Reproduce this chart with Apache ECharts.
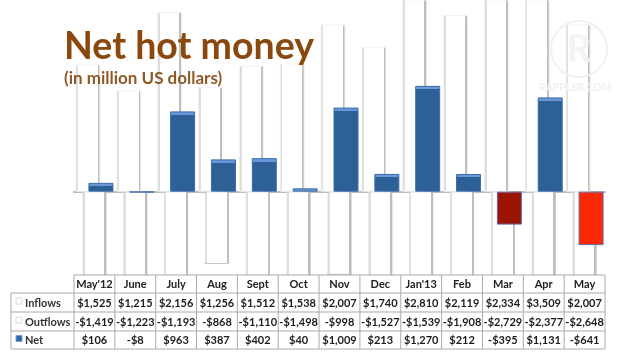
<!DOCTYPE html>
<html><head><meta charset="utf-8">
<script src="https://cdn.jsdelivr.net/npm/echarts@6/dist/echarts.min.js"></script>
<style>html,body{margin:0;padding:0;background:#fff}#c{width:636px;height:360px;filter:blur(0.35px)}</style>
</head><body><div id="c"></div>
<script>
const months = ["May'12","June","July","Aug","Sept","Oct","Nov","Dec","Jan'13","Feb","Mar","Apr","May"];
const inflows = [1525,1215,2156,1256,1512,1538,2007,1740,2810,2119,2334,3509,2007];
const outflows = [-1419,-1223,-1193,-868,-1110,-1498,-998,-1527,-1539,-1908,-2729,-2377,-2648];
const net = [106,-8,963,387,402,40,1009,213,1270,212,-395,1131,-641];
const rowNames = ["Inflows","Outflows","Net"];
const negColors = {10:'#9c1503',12:'#fb2804'};

const fmt = v => (v<0?'-':'')+'$'+Math.abs(v).toLocaleString('en-US');
const rows = [inflows,outflows,net];

// layout
const L=74, R=605, LBL=11, COL=(R-L)/13;
const rowY=[275,293,312,331,349];
const FONT='Lato, "Open Sans", sans-serif';
const LINE='#a9a9a9';
const PX_PER_UNIT=1/12;

const g=[];
g.push({type:'rect',silent:true,z:50,shape:{x:0,y:rowY[0],width:636,height:85},style:{fill:'#fff'}});
const ln=(x1,y1,x2,y2)=>g.push({type:'line',silent:true,z:51,shape:{x1,y1,x2,y2},style:{stroke:LINE,lineWidth:1}});
const txt=(x,y,t,align,font,fill)=>g.push({type:'text',silent:true,z:52,x,y,style:{text:t,align,verticalAlign:'middle',font,fill}});
ln(L,rowY[0],R,rowY[0]);
for(let i=1;i<rowY.length;i++) ln(LBL,rowY[i],R,rowY[i]);
ln(LBL,rowY[1],LBL,rowY[4]);
for(let c=0;c<=13;c++) ln(L+c*COL,rowY[0],L+c*COL,rowY[4]);
months.forEach((m,c)=>txt(L+(c+.5)*COL,(rowY[0]+rowY[1])/2+.5,m,'center','bold 11px '+FONT,'#222'));
rows.forEach((r,i)=>{
  const cy=(rowY[i+1]+rowY[i+2])/2+.5;
  r.forEach((v,c)=>txt(L+(c+.5)*COL,cy,fmt(v),'center','bold 11px '+FONT,'#1c1c1c'));
  txt(25,cy,rowNames[i],'left','bold 11px '+FONT,'#333');
  g.push({type:'rect',silent:true,z:52,shape:{x:16,y:cy-5,width:6,height:6},
    style:i==2?{fill:'#2f65a8',stroke:'#7f9fcc',lineWidth:1}:{fill:'#fff',stroke:'#dcdcdc',lineWidth:1}});
});
// title
txt(64,47,'Net hot money','left','bold 37.5px '+FONT,'#8a480e');
txt(64,79,'(in million US dollars)','left','bold 17px '+FONT,'#8f5a28');
// watermark
g.push({type:'circle',silent:true,z:40,shape:{cx:579,cy:49,r:28},style:{fill:'none',stroke:'#f1f1f1',lineWidth:2}});
txt(579,50,'R','center','bold 38px '+FONT,'#f3f3f3');
txt(539,88,'RAPPLER.COM','left','bold 10.5px '+FONT,'#f0f0f0');

// white bars: edges painted as hard stops of the fill so the top stays almost invisible
const fill=new echarts.graphic.LinearGradient(0,0,1,0,[
  {offset:0,color:'#dedede'},{offset:.11,color:'#dedede'},{offset:.11,color:'#fff'},
  {offset:.89,color:'#fff'},{offset:.89,color:'#bdbdbd'},{offset:1,color:'#bdbdbd'}]);
const inflowStyle={color:fill,borderColor:'#f3f3f3',borderWidth:1};
const outflowData=outflows.map(v=>{
  const h=Math.abs(v)*PX_PER_UNIT, f=1-2/h;
  return {value:v,itemStyle:{color:fill,borderWidth:1,borderColor:new echarts.graphic.LinearGradient(0,0,0,1,[
    {offset:0,color:'rgba(255,255,255,0)'},{offset:f,color:'rgba(255,255,255,0)'},{offset:f,color:'#c8c8c8'},{offset:1,color:'#c8c8c8'}])}};
});
const netData=net.map((v,i)=>{
  if(v<0&&negColors[i]) return {value:v,itemStyle:{color:negColors[i],borderColor:'#6f64a8',borderWidth:1}};
  const h=Math.abs(v)*PX_PER_UNIT, f=Math.min(1,3.5/h);
  return {value:v,itemStyle:{borderColor:'#3a6cab',borderWidth:1,color:new echarts.graphic.LinearGradient(0,0,0,1,[
    {offset:0,color:'#6a97d8'},{offset:f,color:'#6a97d8'},{offset:f,color:'#2e6098'},{offset:1,color:'#2e6098'}])}};
});
const common={type:'bar',barWidth:25,barGap:'-74%',animation:false,silent:true};
const chart=echarts.init(document.getElementById('c'),null,{renderer:'canvas'});
chart.setOption({
  animation:false,
  backgroundColor:'#fff',
  grid:{left:L,right:636-R,top:0,height:280},
  xAxis:{type:'category',data:months,axisLabel:{show:false},axisTick:{show:false},
    axisLine:{onZero:true,lineStyle:{color:'#bdbdbd',width:2}},splitLine:{show:false}},
  yAxis:{type:'value',min:-1060,max:2300,show:false,splitLine:{show:false}},
  series:[
    {...common,name:'Inflows',data:inflows,itemStyle:inflowStyle},
    {...common,name:'Outflows',data:outflowData},
    {...common,name:'Net',data:netData}
  ],
  graphic:{elements:g}
});
</script></body></html>
